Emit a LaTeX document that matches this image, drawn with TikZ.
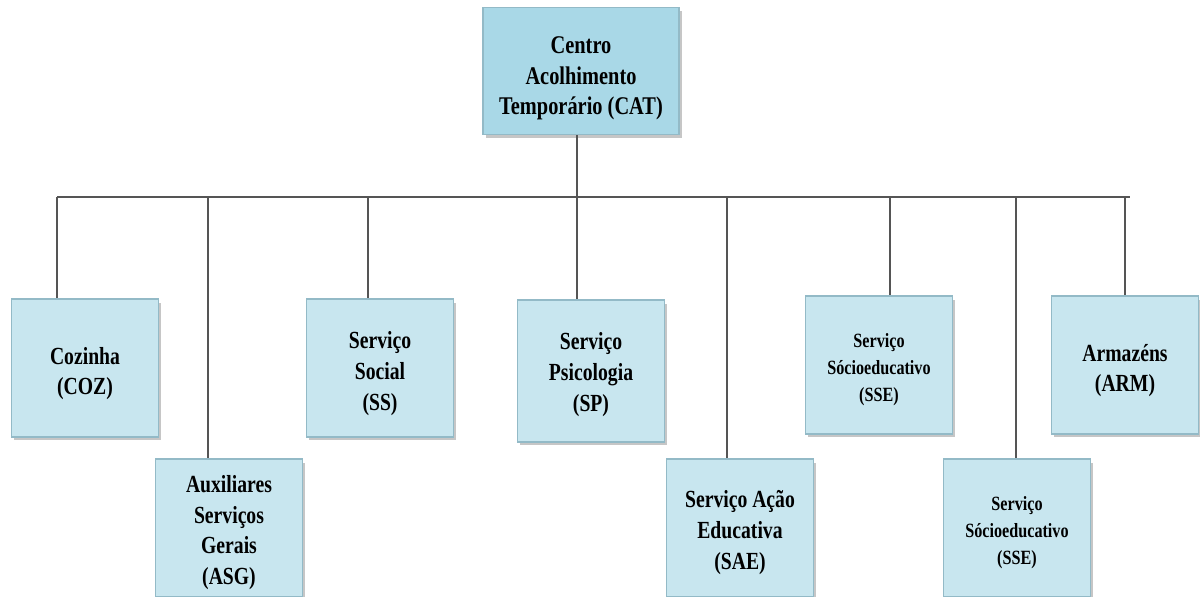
\documentclass[tikz,border=0pt]{standalone}
\usepackage{fontspec}
\setmainfont{Liberation Serif}[FakeStretch=0.8]
\usetikzlibrary{positioning}
\usetikzlibrary{shadows}
\definecolor{unitfill}{HTML}{C8E6EF}
\definecolor{headfill}{HTML}{A9D8E7}
\definecolor{unitedge}{HTML}{93BAC7}
\definecolor{linkgray}{HTML}{555555}
\newcommand{\lift}[1]{\rule{0pt}{#1}} % pushes the text of a box a little down
\tikzset{x=0.02cm, y=-0.02cm, % one unit = one pixel of the chart
unit/.style={ % Sets the properties for each sector box
draw=unitedge,
fill=unitfill,
line width=0.8pt,
align=center,
inner sep=2pt,
minimum width=2.94cm,
minimum height=2.76cm,
font=\bfseries\fontsize{14}{17.5}\selectfont,
drop shadow={shadow xshift=1.5pt, shadow yshift=-2pt, opacity=0.45}},
small unit/.style={unit, font=\bfseries\fontsize{11.5}{15.5}\selectfont},
head/.style={unit, fill=headfill, minimum width=3.92cm, minimum height=2.54cm,
font=\bfseries\fontsize{14.5}{17.5}\selectfont},
link/.style={draw=linkgray, line width=0.9pt}}

\begin{document}
\begin{tikzpicture}
  \useasboundingbox (0,0) rectangle (1200,597);
  \node[head]       (cat) at (581,71)   {\lift{18pt}Centro\\Acolhimento\\Temporário (CAT)};
  \node[unit]       (coz) at (85,368)   {\lift{16pt}Cozinha\\(COZ)};
  \node[unit]       (asg) at (229,528)  {\lift{15pt}Auxiliares\\Serviços\\Gerais\\(ASG)};
  \node[unit]       (ss)  at (380,368)  {\lift{16pt}Serviço\\Social\\(SS)};
  \node[unit, minimum height=2.84cm] (sp) at (591,371) {\lift{14pt}Serviço\\Psicologia\\(SP)};
  \node[unit]       (sae) at (740,528)  {\lift{15pt}Serviço Ação\\Educativa\\(SAE)};
  \node[small unit] (sse) at (879,365)  {\lift{13pt}Serviço\\Sócioeducativo\\(SSE)};
  \node[unit]       (arm) at (1125,365) {\lift{16pt}Armazéns\\(ARM)};
  \node[small unit] (sseb) at (1017,528) {\lift{13pt}Serviço\\Sócioeducativo\\(SSE)};
  % horizontal bus
  \coordinate (bus west) at (57,197);
  \coordinate (bus east) at (1130,197);
  \coordinate (bus top)  at (577,197);
  \draw[link] (bus west) -- (bus east);
  \draw[link] (bus top |- cat.south) -- (bus top);
  % drops to each sector
  \foreach \x/\n in {57/coz, 208/asg, 368/ss, 577/sp, 727/sae, 890/sse, 1016/sseb, 1125/arm}
  {
    \coordinate (drop \n) at (\x,197);
    \draw[link] (drop \n) -- (drop \n |- \n.north);
  }
\end{tikzpicture}
\end{document}
